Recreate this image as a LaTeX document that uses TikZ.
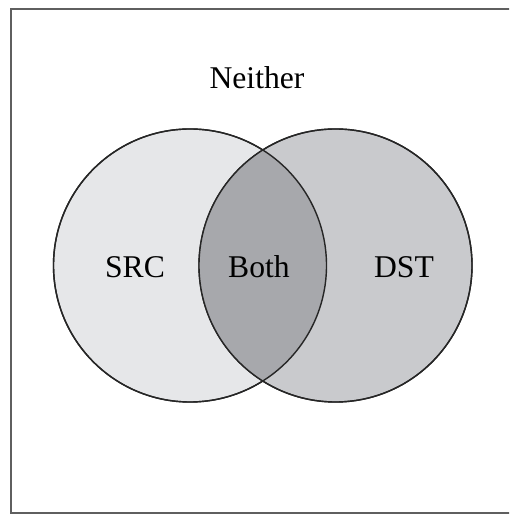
\documentclass[tikz,border=0pt]{standalone}
\usepackage{fontspec}
\setmainfont{Liberation Serif}
\definecolor{srcgray}{RGB}{230,231,233}
\definecolor{dstgray}{RGB}{201,202,205}
\definecolor{bothgray}{RGB}{167,168,172}
\definecolor{framegray}{RGB}{95,95,95}
\begin{document}
\begin{tikzpicture}[x=0.03cm, y=0.03cm,
    set/.style={circle, draw=black!85, line width=1.2pt, minimum size=8.19cm, inner sep=0pt},
    lbl/.style={font=\fontsize{27}{30}\selectfont, inner sep=0pt}]
    \useasboundingbox (0,0) rectangle (509,515);
    \clip (0,0) rectangle (509,515);

    % Frame (open on the right)
    \draw[framegray, line width=1.7pt] (530,506) -- (11,506) -- (11,2) -- (530,2);

    % Circle for SRC
    \node[set, fill=srcgray] (src) at (190,249.5) {};
    % Circle for DST
    \node[set, fill=dstgray] (dst) at (335.5,249.5) {};

    % Overlap
    \begin{scope}
        \clip (190,249.5) circle (136.5);
        \fill[bothgray] (335.5,249.5) circle (136.5);
    \end{scope}
    \draw[black!85, line width=1.2pt] (190,249.5) circle (136.5);
    \draw[black!85, line width=1.2pt] (335.5,249.5) circle (136.5);

    % Labels
    \node[lbl] (neither) at (257,437) {Neither};
    \node[lbl] (srclabel) at (135,248) {SRC};
    \node[lbl] (bothlabel) at (259,248) {Both};
    \node[lbl] (dstlabel) at (404,248) {DST};
\end{tikzpicture}
\end{document}
